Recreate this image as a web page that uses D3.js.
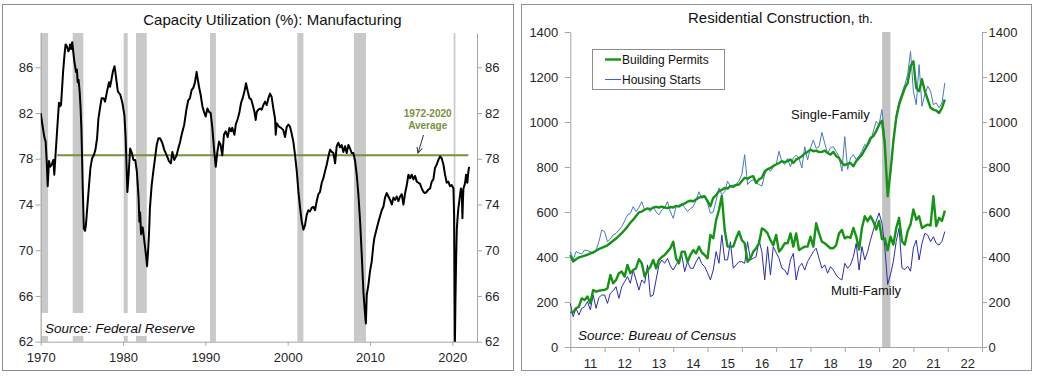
<!DOCTYPE html>
<html>
<head>
<meta charset="utf-8">
<script src="https://cdn.jsdelivr.net/npm/d3@7"></script>
<style>
    body { margin: 0; background: #fff; }
    svg text { font-family: Arial, "Liberation Sans", sans-serif; }
</style>
</head>
<body>
<svg id="chart" width="1038" height="376"></svg>
<script>
/*global d3*/

// ---------- left chart: capacity utilization, manufacturing (%) ----------
var capUtilization = [
    [1970.0, 82.0], [1970.2, 81.0], [1970.44, 79.9], [1970.6, 79.5], [1970.73, 77.8], [1970.85, 75.6],
    [1971.01, 77.8], [1971.15, 77.3], [1971.34, 77.5], [1971.54, 77.9], [1971.65, 76.6], [1971.85, 78.9],
    [1972.07, 81.3], [1972.22, 82.9], [1972.35, 82.6], [1972.47, 82.7], [1972.6, 84.2], [1972.72, 85.6],
    [1972.88, 87.0], [1973.02, 88.0], [1973.14, 87.9], [1973.24, 87.7], [1973.35, 87.4], [1973.45, 87.5],
    [1973.57, 88.0], [1973.7, 87.6], [1973.83, 88.2], [1973.95, 87.4], [1974.09, 86.5], [1974.29, 85.6],
    [1974.4, 85.8], [1974.49, 84.7], [1974.6, 84.9], [1974.73, 83.9], [1974.84, 82.5], [1974.94, 80.7],
    [1975.03, 78.0], [1975.11, 75.4], [1975.24, 71.9], [1975.39, 71.7], [1975.49, 72.2], [1975.59, 73.1],
    [1975.72, 74.3], [1975.84, 75.4], [1976.04, 77.2], [1976.25, 78.05], [1976.45, 78.3], [1976.65, 78.8],
    [1976.85, 79.8], [1977.01, 81.5], [1977.2, 82.4], [1977.4, 83.3], [1977.62, 83.3], [1977.82, 83.0],
    [1978.06, 83.9], [1978.3, 84.7], [1978.42, 84.3], [1978.54, 84.7], [1978.76, 85.6], [1978.97, 86.1],
    [1979.12, 85.3], [1979.37, 83.9], [1979.67, 83.6], [1979.92, 82.9], [1980.17, 81.8], [1980.32, 79.8],
    [1980.53, 75.1], [1980.68, 76.6], [1980.86, 78.9], [1981.08, 78.5], [1981.26, 77.9], [1981.48, 77.9],
    [1981.68, 76.9], [1981.89, 74.6], [1981.99, 72.5], [1982.08, 73.3], [1982.19, 71.4], [1982.39, 72.0],
    [1982.59, 70.8], [1982.79, 69.6], [1982.92, 68.6], [1983.05, 70.0], [1983.16, 71.5], [1983.27, 73.7],
    [1983.48, 75.7], [1983.68, 76.9], [1983.89, 78.05], [1984.09, 79.2], [1984.3, 79.8], [1984.49, 79.8],
    [1984.77, 79.4], [1985.0, 78.8], [1985.31, 78.3], [1985.58, 77.8], [1985.81, 77.6], [1985.99, 78.6],
    [1986.23, 77.9], [1986.51, 78.3], [1986.71, 78.9], [1986.91, 79.4], [1987.12, 80.1], [1987.44, 81.0],
    [1987.72, 82.4], [1987.92, 83.1], [1988.13, 83.3], [1988.33, 84.0], [1988.54, 84.2], [1988.74, 84.7],
    [1988.94, 85.6], [1989.07, 85.0], [1989.23, 84.3], [1989.43, 83.6], [1989.64, 82.6], [1989.84, 82.1],
    [1990.04, 81.7], [1990.25, 82.4], [1990.45, 82.1], [1990.65, 82.0], [1990.85, 80.7], [1991.05, 78.9],
    [1991.26, 77.3], [1991.46, 78.6], [1991.66, 79.5], [1991.86, 79.2], [1992.06, 78.3], [1992.26, 80.1],
    [1992.47, 80.4], [1992.72, 79.9], [1992.92, 80.7], [1993.12, 80.4], [1993.27, 80.7], [1993.53, 80.1],
    [1993.7, 81.0], [1993.94, 81.5], [1994.15, 82.1], [1994.34, 82.9], [1994.54, 83.3], [1994.75, 83.9],
    [1994.94, 84.6], [1995.15, 83.9], [1995.36, 83.3], [1995.56, 83.2], [1995.76, 82.7], [1995.96, 82.1],
    [1996.12, 81.4], [1996.24, 82.1], [1996.44, 82.3], [1996.64, 82.4], [1996.84, 82.3], [1997.05, 82.7],
    [1997.26, 83.0], [1997.46, 82.7], [1997.66, 83.3], [1997.86, 83.7], [1998.06, 83.4], [1998.26, 82.4],
    [1998.47, 81.5], [1998.55, 80.1], [1998.67, 81.1], [1998.96, 80.8], [1999.2, 80.7], [1999.48, 80.5],
    [1999.68, 79.9], [1999.89, 80.8], [2000.09, 81.0], [2000.29, 80.8], [2000.49, 80.2], [2000.69, 79.5],
    [2000.9, 78.3], [2001.11, 76.9], [2001.31, 75.1], [2001.51, 73.7], [2001.71, 72.5], [2001.91, 71.8],
    [2002.11, 72.2], [2002.31, 73.1], [2002.51, 73.5], [2002.71, 73.4], [2002.92, 73.7], [2003.13, 73.8],
    [2003.33, 73.5], [2003.53, 74.3], [2003.73, 74.9], [2003.93, 75.1], [2004.14, 75.9], [2004.34, 76.3],
    [2004.54, 76.9], [2004.75, 77.5], [2004.95, 78.2], [2005.15, 78.8], [2005.36, 78.6], [2005.56, 78.5],
    [2005.76, 77.6], [2005.96, 79.1], [2006.16, 79.4], [2006.36, 79.0], [2006.56, 79.2], [2006.77, 78.6],
    [2006.97, 79.1], [2007.17, 78.5], [2007.38, 79.2], [2007.58, 78.9], [2007.78, 78.5], [2007.98, 78.5],
    [2008.19, 77.8], [2008.39, 76.6], [2008.59, 74.9], [2008.8, 72.5], [2009.0, 69.6], [2009.2, 66.4],
    [2009.4, 64.4], [2009.5, 63.6], [2009.61, 66.1], [2009.81, 67.0], [2010.01, 68.2], [2010.21, 69.0],
    [2010.42, 70.5], [2010.54, 71.1], [2010.82, 71.9], [2011.03, 72.5], [2011.23, 73.0], [2011.43, 73.5],
    [2011.63, 73.8], [2011.83, 74.6], [2012.03, 75.0], [2012.24, 74.7], [2012.45, 74.4], [2012.65, 74.0],
    [2012.85, 74.6], [2013.05, 74.4], [2013.25, 74.7], [2013.45, 74.3], [2013.65, 74.7], [2013.86, 74.9],
    [2014.06, 74.0], [2014.27, 75.0], [2014.47, 75.7], [2014.67, 76.6], [2014.87, 76.3], [2015.07, 76.6],
    [2015.28, 76.2], [2015.48, 76.5], [2015.68, 76.0], [2015.88, 75.9], [2016.08, 75.8], [2016.29, 75.4],
    [2016.49, 75.1], [2016.69, 75.0], [2016.89, 75.1], [2017.09, 75.3], [2017.3, 75.4], [2017.5, 76.0],
    [2017.7, 76.2], [2017.9, 77.2], [2018.11, 77.5], [2018.31, 77.9], [2018.51, 78.2], [2018.71, 78.05],
    [2018.92, 77.5], [2019.12, 76.6], [2019.32, 75.9], [2019.52, 76.0], [2019.72, 75.6], [2019.93, 75.7],
    [2020.14, 75.4], [2020.22, 73.0], [2020.3, 61.0], [2020.38, 65.5], [2020.47, 69.5], [2020.55, 71.9],
    [2020.65, 72.9], [2020.74, 73.7], [2020.85, 74.3], [2020.95, 74.9], [2021.05, 75.4], [2021.15, 75.0],
    [2021.23, 72.8], [2021.3, 74.5], [2021.35, 75.4], [2021.45, 75.6], [2021.55, 75.9], [2021.67, 76.6],
    [2021.75, 76.0], [2021.83, 75.9], [2021.9, 76.5], [2021.96, 76.9], [2022.04, 77.3]
];
var capAverage = 78.3;
var capAverageSpan = [1972.0, 2021.95];
var capRecessions = [
    [1969.92, 1970.9], [1973.89, 1975.18], [1980.08, 1980.57], [1981.58, 1982.88],
    [1990.57, 1991.28], [2001.18, 2001.91], [2008.05, 2009.52], [2020.17, 2020.37]
];
var capTicks = [62, 66, 70, 74, 78, 82, 86];
var decadeTicks = [1970, 1980, 1990, 2000, 2010, 2020];

// ---------- right chart: residential construction (th.), monthly from Jan 2011 ----------
var resStart = 2011;
var sfPermits = [
    409, 380, 390, 398, 402, 406, 410, 416, 420, 428, 435, 441,
    446, 452, 462, 472, 482, 494, 506, 520, 535, 552, 566, 582,
    598, 602, 610, 616, 613, 619, 623, 620, 624, 620, 617, 622,
    620, 627, 624, 632, 638, 646, 650, 648, 656, 664, 668, 670,
    648, 626, 663, 675, 692, 698, 707, 704, 715, 712, 720, 722,
    738, 752, 748, 756, 759, 729, 745, 752, 781, 790, 796, 805,
    811, 818, 826, 822, 826, 833, 818, 833, 840, 848, 860, 867,
    877, 870, 873, 866, 867, 873, 862, 855, 867, 848, 840, 818,
    808, 814, 818, 803, 826, 840, 855, 877, 900, 929, 937, 959,
    988, 1006, 900, 670, 781, 914, 1018, 1077, 1114, 1151, 1174, 1248,
    1270, 1151, 1137, 1190, 1137, 1100, 1063, 1055, 1051, 1040, 1063, 1100
];
var sfStarts = [
    424, 387, 424, 418, 413, 431, 428, 424, 416, 430, 468, 520,
    513, 468, 480, 498, 505, 520, 535, 560, 587, 594, 624, 602,
    620, 646, 609, 612, 602, 624, 600, 587, 609, 620, 646, 600,
    572, 624, 630, 639, 620, 602, 615, 624, 653, 690, 660, 668,
    640, 594, 600, 650, 707, 677, 690, 737, 715, 720, 722, 740,
    766, 855, 722, 737, 744, 730, 722, 715, 766, 796, 781, 800,
    811, 870, 823, 811, 838, 801, 840, 853, 838, 796, 890, 831,
    885, 920, 883, 890, 954, 905, 860, 885, 890, 868, 846, 781,
    935, 789, 840, 855, 833, 850, 870, 900, 892, 914, 960, 1003,
    988, 1055, 929, 692, 766, 929, 1033, 1092, 1129, 1166, 1211, 1314,
    1137, 1077, 1255, 1070, 1122, 1159, 1137, 1077, 1085, 1063, 1085, 1174
];
var mfPermits = [
    153, 155, 172, 179, 216, 209, 224, 194, 253, 246, 250, 253,
    253, 261, 320, 283, 298, 328, 335, 313, 365, 328, 342, 350,
    390, 372, 313, 340, 357, 387, 350, 387, 400, 409, 424, 439,
    468, 394, 372, 424, 424, 379, 409, 431, 416, 446, 420, 409,
    394, 498, 483, 564, 609, 671, 520, 446, 446, 446, 483, 513,
    475, 461, 379, 394, 424, 439, 461, 527, 520, 505, 475, 453,
    498, 424, 439, 461, 461, 505, 446, 505, 431, 439, 446, 446,
    490, 446, 550, 505, 468, 461, 450, 439, 439, 453, 505, 520,
    483, 490, 485, 529, 492, 433, 529, 581, 559, 581, 557, 522,
    560, 480, 482, 430, 490, 455, 529, 574, 470, 455, 515, 544,
    611, 566, 581, 529, 537, 544, 540, 670, 537, 574, 560, 606
];
var mfStarts = [
    194, 135, 172, 142, 172, 179, 202, 165, 231, 172, 220, 231,
    231, 194, 239, 250, 268, 216, 268, 290, 313, 283, 342, 298,
    253, 298, 283, 365, 224, 231, 298, 365, 387, 372, 394, 360,
    342, 365, 387, 409, 335, 379, 350, 350, 379, 401, 370, 357,
    330, 298, 342, 424, 372, 498, 387, 387, 468, 350, 365, 379,
    379, 372, 468, 387, 394, 401, 475, 424, 298, 446, 320, 446,
    420, 394, 350, 342, 320, 387, 416, 298, 357, 372, 342, 380,
    401, 424, 439, 394, 350, 365, 328, 357, 342, 320, 305, 298,
    372, 350, 365, 401, 461, 342, 446, 387, 424, 475, 520, 560,
    596, 550, 446, 278, 322, 381, 470, 529, 352, 344, 359, 337,
    440, 475, 387, 461, 505, 498, 468, 490, 461, 453, 470, 513
];
var resRecession = [2020.09, 2020.33];
var resTicks = [0, 200, 400, 600, 800, 1000, 1200, 1400];
var yearLabels = ["11", "12", "13", "14", "15", "16", "17", "18", "19", "20", "21", "22"];

var svg = d3.select("#chart");
var axisGrey = "#a6a6a6";
var labelColor = "#262626";

function styleAxis(g) {
    g.attr("font-family", "Arial, 'Liberation Sans', sans-serif").attr("font-size", 13);
    g.select(".domain").attr("stroke", axisGrey);
    g.selectAll(".tick line").attr("stroke", axisGrey);
    g.selectAll(".tick text").attr("fill", labelColor);
}

// panel frames
svg.append("rect").attr("x", 2.5).attr("y", 4.5).attr("width", 511).attr("height", 366)
    .attr("fill", "none").attr("stroke", "#8c8c8c");
svg.append("rect").attr("x", 521.5).attr("y", 4.5).attr("width", 510).attr("height", 366)
    .attr("fill", "none").attr("stroke", "#8a96a8");

// ================= left chart =================
var capX = d3.scaleLinear().domain([1970, 2023]).range([40.7, 477]);
var capY = d3.scaleLinear().domain([62, 89]).range([341.7, 33]);

svg.append("text").attr("x", 272.5).attr("y", 24.5).attr("text-anchor", "middle")
    .attr("font-size", 15).attr("fill", "#111").text("Capacity Utilization (%): Manufacturing");

// recession shading
svg.append("g").selectAll("rect").data(capRecessions).join("rect")
    .attr("x", function (d) { return capX(Math.max(d[0], 1970)); })
    .attr("y", capY(89))
    .attr("width", function (d) { return capX(d[1]) - capX(Math.max(d[0], 1970)); })
    .attr("height", capY(62) - capY(89))
    .attr("fill", "#c9c9c9");

// source box hides the shading under the text
svg.append("rect").attr("x", 41.5).attr("y", 313).attr("width", 157).attr("height", 23).attr("fill", "#fff");
svg.append("text").attr("x", 45).attr("y", 333).attr("font-size", 13.5).attr("font-style", "italic")
    .attr("fill", "#111").text("Source: Federal Reserve");

styleAxis(svg.append("g").attr("transform", "translate(" + capX(1970) + ",0)")
    .call(d3.axisLeft(capY).tickValues(capTicks).tickSize(5).tickSizeOuter(0).tickPadding(2.5)));
styleAxis(svg.append("g").attr("transform", "translate(" + capX(2023) + ",0)")
    .call(d3.axisRight(capY).tickValues(capTicks).tickSize(5).tickSizeOuter(0).tickPadding(3)));
styleAxis(svg.append("g").attr("transform", "translate(0," + capY(62) + ")")
    .call(d3.axisBottom(capX).tickValues(decadeTicks).tickFormat(d3.format("d"))
        .tickSize(4).tickSizeOuter(0).tickPadding(7.5)));

// 1972-2020 average
svg.append("line")
    .attr("x1", capX(capAverageSpan[0])).attr("x2", capX(capAverageSpan[1]))
    .attr("y1", capY(capAverage)).attr("y2", capY(capAverage))
    .attr("stroke", "#76923c").attr("stroke-width", 2);

svg.append("clipPath").attr("id", "capClip").append("rect")
    .attr("x", capX(1970)).attr("y", capY(89)).attr("width", capX(2023) - capX(1970))
    .attr("height", capY(62) - capY(89));

var capLine = d3.line()
    .x(function (d) { return capX(d[0]); })
    .y(function (d) { return capY(d[1]); });

svg.append("path").datum(capUtilization)
    .attr("clip-path", "url(#capClip)")
    .attr("d", capLine)
    .attr("fill", "none").attr("stroke", "#000").attr("stroke-width", 2)
    .attr("stroke-linejoin", "round");

// annotation
var note = svg.append("text").attr("text-anchor", "middle").attr("font-family", "Lato, 'Open Sans', sans-serif")
    .attr("font-weight", "bold").attr("font-size", 10).attr("fill", "#76923c");
note.append("tspan").attr("x", 427.7).attr("y", 117).text("1972-2020");
note.append("tspan").attr("x", 427.7).attr("y", 129).text("Average");

svg.append("defs").append("marker").attr("id", "arrowHead")
    .attr("viewBox", "0 0 10 10").attr("refX", 9).attr("refY", 5)
    .attr("markerWidth", 7).attr("markerHeight", 7).attr("orient", "auto")
    .append("path").attr("d", "M1,1 L9,5 L1,9").attr("fill", "none").attr("stroke", "#333").attr("stroke-width", 1.4);
svg.append("line").attr("x1", 423.5).attr("y1", 135).attr("x2", 418).attr("y2", 153)
    .attr("stroke", "#333").attr("stroke-width", 1).attr("marker-end", "url(#arrowHead)");

// ================= right chart =================
var resX = d3.scaleLinear().domain([2011, 2023]).range([570.3, 982]);
var resY = d3.scaleLinear().domain([0, 1400]).range([347, 32]);

var title = svg.append("text").attr("x", 688).attr("y", 23).attr("fill", "#111");
title.append("tspan").attr("font-size", 15).text("Residential Construction,");
title.append("tspan").attr("font-size", 13).text(" th.");

svg.append("rect")
    .attr("x", resX(resRecession[0])).attr("y", resY(1400))
    .attr("width", resX(resRecession[1]) - resX(resRecession[0]))
    .attr("height", resY(0) - resY(1400))
    .attr("fill", "#c2c2c2");

styleAxis(svg.append("g").attr("transform", "translate(" + resX(2011) + ",0)")
    .call(d3.axisLeft(resY).tickValues(resTicks).tickFormat(d3.format("d"))
        .tickSize(5.5).tickSizeOuter(0).tickPadding(6.5)));
styleAxis(svg.append("g").attr("transform", "translate(" + resX(2023) + ",0)")
    .call(d3.axisRight(resY).tickValues(resTicks).tickFormat(d3.format("d"))
        .tickSize(5).tickSizeOuter(0).tickPadding(1.5)));
styleAxis(svg.append("g").attr("transform", "translate(0," + resY(0) + ")")
    .call(d3.axisBottom(resX).tickValues(d3.range(2011, 2024)).tickFormat("")
        .tickSize(5).tickSizeOuter(0)));

svg.append("g").attr("font-size", 13).attr("fill", labelColor).attr("text-anchor", "middle")
    .selectAll("text").data(yearLabels).join("text")
    .attr("x", function (d, i) { return resX(resStart + i + 0.5) + 3; })
    .attr("y", 367.5)
    .text(function (d) { return d; });

var monthLine = d3.line()
    .x(function (d, i) { return resX(resStart + i / 12); })
    .y(function (d) { return resY(d); });

var resSeries = [
    {values: sfStarts, color: "#4a78c4", width: 1},
    {values: mfStarts, color: "#2a2eae", width: 1},
    {values: sfPermits, color: "#149314", width: 2.4},
    {values: mfPermits, color: "#149314", width: 2.4}
];
svg.append("g").selectAll("path").data(resSeries).join("path")
    .attr("d", function (d) { return monthLine(d.values); })
    .attr("fill", "none")
    .attr("stroke", function (d) { return d.color; })
    .attr("stroke-width", function (d) { return d.width; })
    .attr("stroke-linejoin", "round");

svg.append("text").attr("x", 791).attr("y", 119).attr("font-family", "Lato, 'Open Sans', sans-serif")
    .attr("font-size", 13).attr("fill", "#111").text("Single-Family");
svg.append("text").attr("x", 831).attr("y", 295).attr("font-family", "Lato, 'Open Sans', sans-serif")
    .attr("font-size", 13).attr("fill", "#111").text("Multi-Family");

svg.append("text").attr("x", 578).attr("y", 339.5).attr("font-size", 13.5).attr("font-style", "italic")
    .attr("fill", "#111").text("Source: Bureau of Census");

// legend
var legend = svg.append("g");
legend.append("rect").attr("x", 592.5).attr("y", 49.5).attr("width", 132).attr("height", 40)
    .attr("fill", "#fff").attr("stroke", "#8c8c8c");
legend.append("line").attr("x1", 605).attr("x2", 621).attr("y1", 59.5).attr("y2", 59.5)
    .attr("stroke", "#149314").attr("stroke-width", 2.4);
legend.append("line").attr("x1", 605).attr("x2", 621).attr("y1", 79.5).attr("y2", 79.5)
    .attr("stroke", "#3f63c4").attr("stroke-width", 1);
legend.append("text").attr("x", 622).attr("y", 64).attr("font-size", 12).attr("fill", "#111").text("Building Permits");
legend.append("text").attr("x", 622).attr("y", 84).attr("font-size", 12).attr("fill", "#111").text("Housing Starts");
</script>
</body>
</html>
